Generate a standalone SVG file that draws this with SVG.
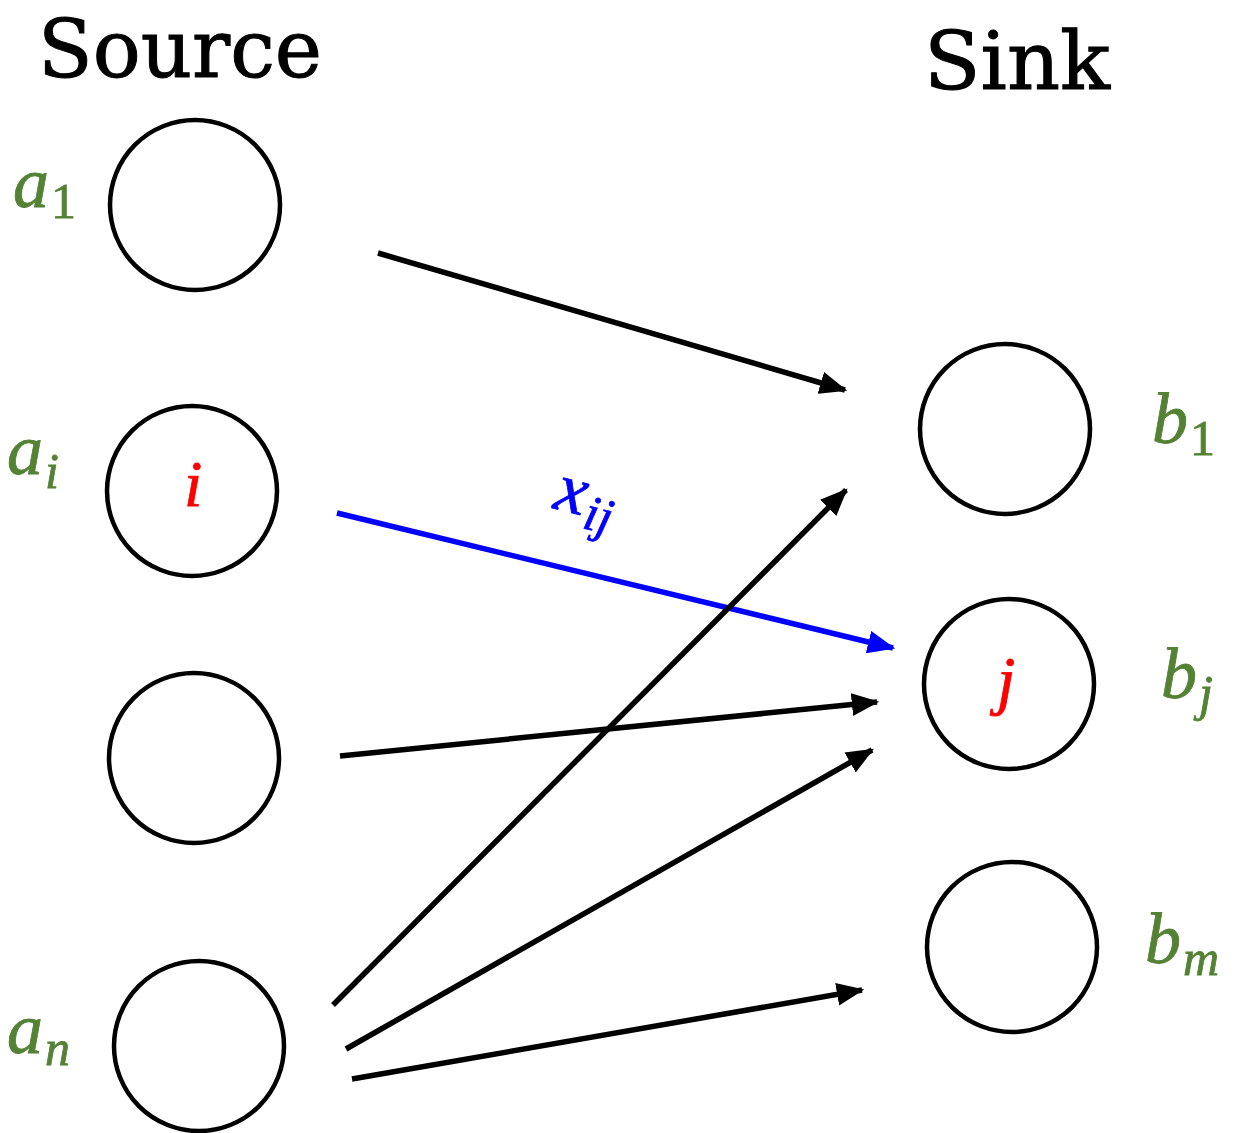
<svg xmlns="http://www.w3.org/2000/svg" width="1239" height="1133" viewBox="0 0 1239 1133">
<style>
.node{fill:none;stroke:#000;stroke-width:4.5}
.edge{stroke:#000;stroke-width:5.5;fill:none}
.title{font-family:"DejaVu Serif","Liberation Serif",serif;font-size:80px;fill:#000;stroke:#000;stroke-width:1}
.m{font-family:"Liberation Serif",serif;font-style:italic;fill:#548235;font-size:72px;stroke:#548235;stroke-width:0.8}
.s{font-size:50px}
.u{font-style:normal}
.r{font-family:"Liberation Serif",serif;font-style:italic;fill:#ff0000;font-size:66px;stroke:#ff0000;stroke-width:0.8}
</style>
<defs>
<marker id="ah" viewBox="0 0 12 10" refX="11" refY="5" markerWidth="5" markerHeight="4.2" markerUnits="strokeWidth" orient="auto">
<path d="M0,0 L12,5 L0,10 z" fill="#000"/>
</marker>
<marker id="ahb" viewBox="0 0 12 10" refX="11" refY="5" markerWidth="5" markerHeight="4.2" markerUnits="strokeWidth" orient="auto">
<path d="M0,0 L12,5 L0,10 z" fill="#0000ff"/>
</marker>
</defs>
<text class="title" x="38" y="77" textLength="284" lengthAdjust="spacingAndGlyphs">Source</text>
<text class="title" x="924" y="89" textLength="186" lengthAdjust="spacingAndGlyphs">Sink</text>
<g id="a1"><circle class="node" cx="195" cy="205" r="85"/><text class="m" x="13" y="207">a<tspan class="s u" dx="2" dy="11">1</tspan></text></g>
<g id="ai"><circle class="node" cx="192" cy="491" r="85"/><text class="m" x="7" y="474">a<tspan class="s" dx="2" dy="14">i</tspan></text><text class="r" x="184" y="506">i</text></g>
<g id="a3"><circle class="node" cx="194" cy="758" r="85"/></g>
<g id="an"><circle class="node" cx="199" cy="1046" r="85"/><text class="m" x="7" y="1053">a<tspan class="s" dx="2" dy="12">n</tspan></text></g>
<g id="b1"><circle class="node" cx="1005" cy="429" r="85"/><text class="m" x="1152" y="443">b<tspan class="s u" dx="2" dy="12">1</tspan></text></g>
<g id="bj"><circle class="node" cx="1009" cy="684" r="85"/><text class="m" x="1161" y="698">b<tspan class="s" dx="2" dy="12">j</tspan></text><text class="r" x="997" y="702">j</text></g>
<g id="bm"><circle class="node" cx="1012" cy="947" r="85"/><text class="m" x="1145" y="963">b<tspan class="s" dx="2" dy="12">m</tspan></text></g>
<g id="edges">
<line class="edge" x1="378" y1="253" x2="845" y2="390" marker-end="url(#ah)"/>
<line class="edge" x1="337" y1="513" x2="893" y2="648" style="stroke:#0000ff" marker-end="url(#ahb)"/>
<line class="edge" x1="340" y1="756" x2="877" y2="702" marker-end="url(#ah)"/>
<line class="edge" x1="333" y1="1005" x2="846" y2="490" marker-end="url(#ah)"/>
<line class="edge" x1="346" y1="1049" x2="872" y2="750" marker-end="url(#ah)"/>
<line class="edge" x1="352" y1="1079" x2="862" y2="990" marker-end="url(#ah)"/>
<text x="552" y="508" style="font-family:'Liberation Serif',serif;font-style:italic;fill:#0000ff;stroke:#0000ff;stroke-width:0.8;font-size:70px" transform="rotate(14 552 508)">x<tspan style="font-size:50px" dx="2" dy="12">ij</tspan></text>
</g>
</svg>
